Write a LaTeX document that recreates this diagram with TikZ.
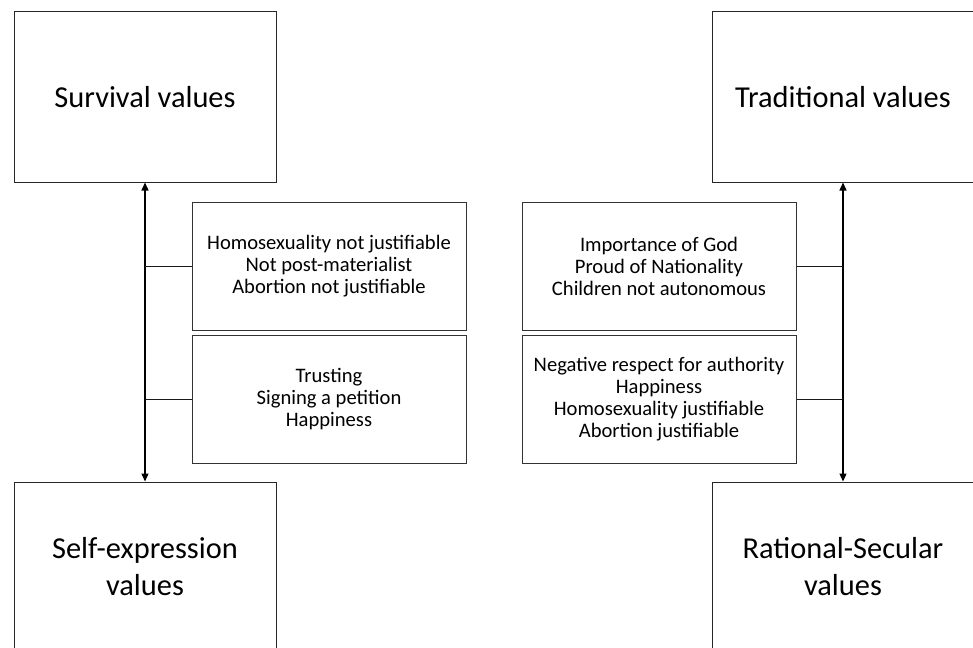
\documentclass[tikz,border=0pt]{standalone}
\usepackage{fontspec}
\setmainfont{Carlito}
\usetikzlibrary{arrows.meta}

\begin{document}
\begin{tikzpicture}[x=1pt,y=-1pt,
    bigbox/.style={draw=black!85, line width=1pt, minimum width=262pt, minimum height=170pt,
      inner sep=0pt, align=center, font=\fontsize{30.4}{37}\selectfont},
    itembox/.style={draw=black!80, line width=1pt, minimum width=274pt, minimum height=128pt,
      inner sep=0pt, align=center, font=\fontsize{20.6}{22}\selectfont},
    axis/.style={line width=1.3pt, {Triangle[length=8pt,width=7pt]}-{Triangle[length=8pt,width=7pt]}},
    link/.style={line width=0.8pt, black!90}]
    \useasboundingbox (0,0) rectangle (973,647);
    \clip (0,0) rectangle (973,647);

    % Left dimension
    \node[bigbox] (survival) at (145,97) {Survival values};
    \node[bigbox] (selfexp) at (145,567) {Self-expression\\values};
    \draw[axis] (survival.south) -- (selfexp.north);

    \node[itembox] (surv1) at (329,266) {Homosexuality not justifiable\\Not post-materialist\\Abortion not justifiable};
    \node[itembox] (surv2) at (329,399) {Trusting\\Signing a petition\\Happiness};
    \draw[link] (surv1.west) -- (surv1.west -| survival.south);
    \draw[link] (surv2.west) -- (surv2.west -| survival.south);

    % Right dimension
    \node[bigbox] (trad) at (843,97) {Traditional values};
    \node[bigbox] (secular) at (843,567) {Rational-Secular\\values};
    \draw[axis] (trad.south) -- (secular.north);

    \node[itembox] (trad1) at (659,266) {Importance of God\\Proud of Nationality\\Children not autonomous};
    \node[itembox] (trad2) at (659,399) {Negative respect for authority\\Happiness\\Homosexuality justifiable\\Abortion justifiable};
    \draw[link] (trad1.east) -- (trad1.east -| trad.south);
    \draw[link] (trad2.east) -- (trad2.east -| trad.south);
\end{tikzpicture}
\end{document}
